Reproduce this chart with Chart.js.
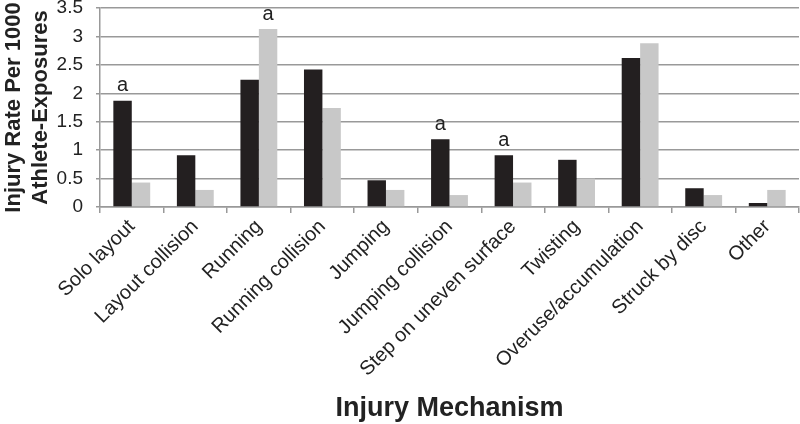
<!DOCTYPE html>
<html>
<head>
<meta charset="utf-8">
<script src="https://cdn.jsdelivr.net/npm/chart.js@4"></script>
<style>
  html, body { margin: 0; padding: 0; background: #fff; }
  #wrap { width: 800px; height: 424px; }
</style>
</head>
<body>
<div id="wrap"><canvas id="injuryChart"></canvas></div>
<script>
// data
const categories = ['Solo layout', 'Layout collision', 'Running', 'Running collision', 'Jumping',
  'Jumping collision', 'Step on uneven surface', 'Twisting', 'Overuse/accumulation', 'Struck by disc', 'Other'];
const darkValues = [1.87, 0.91, 2.24, 2.42, 0.47, 1.19, 0.91, 0.83, 2.62, 0.33, 0.07];
const lightValues = [0.43, 0.30, 3.13, 1.74, 0.30, 0.21, 0.43, 0.50, 2.88, 0.21, 0.30];
// "a" markers: category index + which series (0 = dark, 1 = light)
const markCategory = [0, 2, 5, 6];
const markSeries = [0, 1, 0, 0];

const markPlugin = {
  id: 'marks',
  afterDatasetsDraw(chart) {
    const ctx = chart.ctx;
    ctx.save();
    ctx.font = '20px "Liberation Sans", Arial, sans-serif';
    ctx.fillStyle = '#222';
    ctx.textAlign = 'center';
    ctx.textBaseline = 'bottom';
    markCategory.forEach((c, i) => {
      const bar = chart.getDatasetMeta(markSeries[i]).data[c];
      ctx.fillText('a', bar.x, bar.y - 5);
    });
    ctx.restore();
  }
};

new Chart(document.getElementById('injuryChart'), {
  type: 'bar',
  data: {
    labels: categories,
    datasets: [{
      label: 'Group 1',
      data: darkValues,
      backgroundColor: '#231f20'
    }, {
      label: 'Group 2',
      data: lightValues,
      backgroundColor: '#c8c8c8'
    }]
  },
  options: {
    responsive: true,
    maintainAspectRatio: false,
    animation: false,
    layout: { padding: { top: 8, right: 1, left: 0, bottom: 0 } },
    plugins: { legend: { display: false }, tooltip: { enabled: false } },
    datasets: { bar: { categoryPercentage: 0.58, barPercentage: 1.0 } },
    scales: {
      x: {
        afterFit(axis) { axis.height = 217; axis.paddingLeft = 0; axis.paddingRight = 0; },
        grid: { offset: true, drawOnChartArea: false, color: '#999', lineWidth: 1.5, tickLength: 6 },
        border: { color: '#999', width: 1.5 },
        ticks: {
          color: '#222',
          maxRotation: 45, minRotation: 45,
          autoSkip: false,
          padding: 2,
          font: { family: '"Liberation Sans", Arial, sans-serif', size: 20 }
        },
        title: {
          display: true,
          text: 'Injury Mechanism',
          color: '#222',
          padding: { top: 0, bottom: 2 },
          font: { family: '"Liberation Sans", Arial, sans-serif', size: 27, weight: 'bold', lineHeight: 1.0 }
        }
      },
      y: {
        min: 0, max: 3.5,
        afterFit(axis) { axis.width = 100; axis.paddingTop = 0; axis.paddingBottom = 0; },
        grid: { color: '#999', lineWidth: 1.5, tickLength: 4 },
        border: { color: '#999', width: 1.5 },
        ticks: {
          stepSize: 0.5,
          autoSkip: false,
          color: '#222',
          padding: 13,
          font: { family: '"Liberation Sans", Arial, sans-serif', size: 19 },
          callback: v => String(v)
        },
        title: {
          display: true,
          text: ['Injury Rate Per 1000', 'Athlete-Exposures'],
          color: '#222',
          padding: { top: 0, bottom: 0 },
          font: { family: '"Liberation Sans", Arial, sans-serif', size: 22, weight: 'bold', lineHeight: 1.25 }
        }
      }
    }
  },
  plugins: [markPlugin]
});
</script>
</body>
</html>
